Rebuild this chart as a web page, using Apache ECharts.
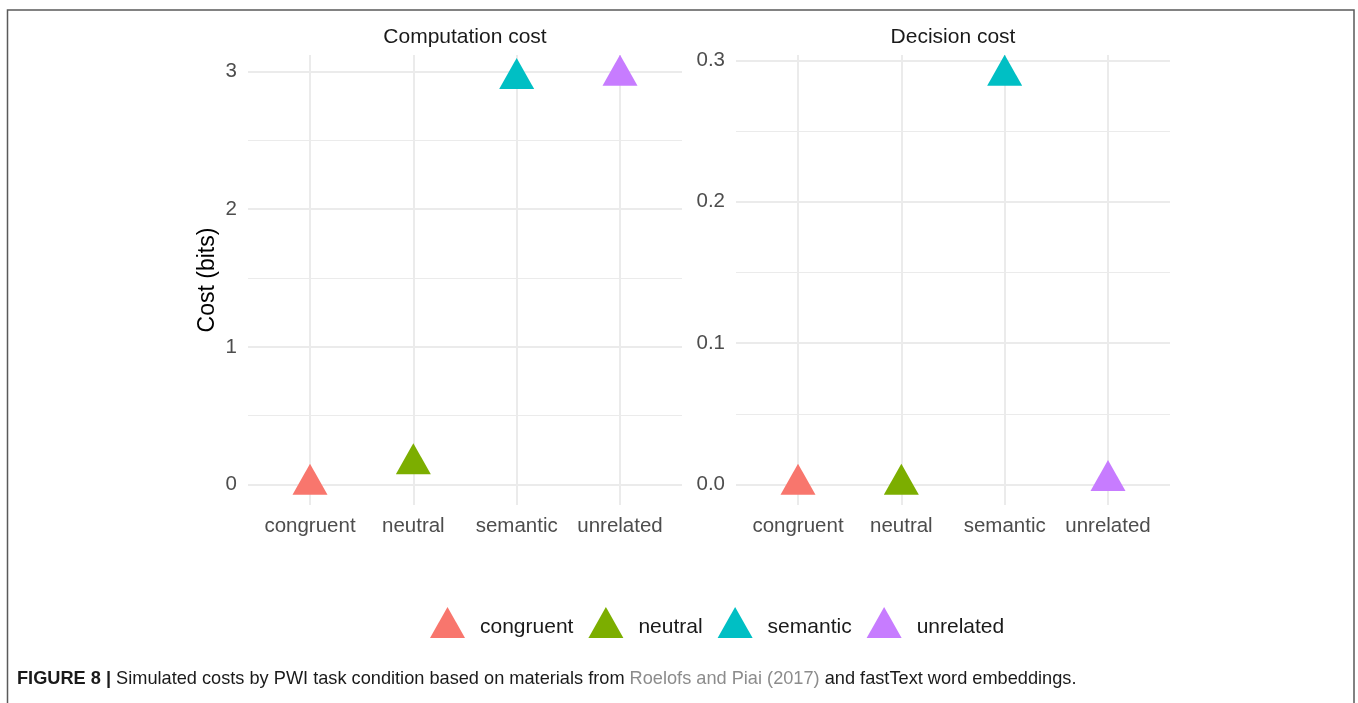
<!DOCTYPE html>
<html>
<head>
<meta charset="utf-8">
<script src="https://cdn.jsdelivr.net/npm/echarts@6/dist/echarts.min.js"></script>
<style>
  html, body { margin: 0; padding: 0; background: #ffffff; }
  #chart { width: 1358px; height: 703px; }
</style>
</head>
<body>
<div id="chart"></div>
<script>
// ---- data ----
const categories = ['congruent', 'neutral', 'semantic', 'unrelated'];
const computationCost = [0, 0.15, 2.948, 2.972];
const decisionCost = [0, 0, 0.2893, 0.0027];
const conditionColors = ['#F8766D', '#7CAE00', '#00BFC4', '#C77CFF'];
const panelTitles = ['Computation cost', 'Decision cost'];
const yAxisTitle = 'Cost (bits)';
const captionParts = ['FIGURE 8 |', ' Simulated costs by PWI task condition based on materials from ', 'Roelofs and Piai (2017)', ' and fastText word embeddings.'];

// ggplot-style 5% expansion of the continuous scale
function expandRange(arr) {
  const lo = Math.min.apply(null, arr), hi = Math.max.apply(null, arr);
  const d = (hi - lo) * 0.05;
  return [lo - d, hi + d];
}
const leftRange = expandRange(computationCost);
const rightRange = expandRange(decisionCost);

const FONT = '"Liberation Sans", Arial, Helvetica, sans-serif';
const GRID_COLOR = '#EBEBEB';
const TICK_COLOR = '#4D4D4D';

const gridTop = 55, gridBottom = 703 - 505;
// panel outer grids (for horizontal grid lines) and inner grids (category centres)
const grids = [
  { left: 248, width: 434, top: gridTop, bottom: gridBottom },   // 0 left outer
  { left: 310, width: 310, top: gridTop, bottom: gridBottom },   // 1 left inner
  { left: 736, width: 434, top: gridTop, bottom: gridBottom },   // 2 right outer
  { left: 798, width: 310, top: gridTop, bottom: gridBottom }    // 3 right inner
];

function hiddenValueX(gi) {
  return { type: 'value', gridIndex: gi, show: false, min: 0, max: 1 };
}
function catX(gi) {
  return {
    type: 'category', gridIndex: gi, data: categories, boundaryGap: false,
    axisLine: { show: false }, axisTick: { show: false },
    axisLabel: { color: TICK_COLOR, fontSize: 20.5, fontFamily: FONT, margin: 11, interval: 0 },
    splitLine: { show: true, interval: 0, lineStyle: { color: GRID_COLOR, width: 2 } }
  };
}
function majorY(gi, range, fmt, extra) {
  return Object.assign({
    type: 'value', gridIndex: gi, min: range[0], max: range[1], splitNumber: 3,
    axisLine: { show: false }, axisTick: { show: false },
    axisLabel: { color: TICK_COLOR, fontSize: 20.5, fontFamily: FONT, margin: 11, formatter: fmt, showMinLabel: false, showMaxLabel: false },
    splitLine: { show: true, showMinLine: false, showMaxLine: false, lineStyle: { color: GRID_COLOR, width: 2 } }
  }, extra || {});
}
function minorY(gi, range) {
  return {
    type: 'value', gridIndex: gi, min: range[0], max: range[1], splitNumber: 5,
    axisLine: { show: false }, axisTick: { show: false }, axisLabel: { show: false },
    splitLine: { show: true, showMinLine: false, showMaxLine: false, lineStyle: { color: GRID_COLOR, width: 1 } }
  };
}
function hiddenY(gi, range) {
  return { type: 'value', gridIndex: gi, min: range[0], max: range[1], show: false };
}

const fmtInt = v => (Math.abs(v - Math.round(v)) < 1e-6 ? String(Math.round(v)) : '');
const fmtTenth = v => (Math.abs(v * 10 - Math.round(v * 10)) < 1e-6 ? v.toFixed(1) : '');

const series = [];
categories.forEach((c, i) => {
  [[1, 2, computationCost], [3, 5, decisionCost]].forEach(([xi, yi, vals]) => {
    series.push({
      name: c, type: 'scatter', xAxisIndex: xi, yAxisIndex: yi,
      symbol: 'triangle', symbolSize: [35, 31], symbolOffset: [0, -5.2],
      itemStyle: { color: conditionColors[i], opacity: 1 },
      emphasis: { disabled: true },
      data: [[c, vals[i]]]
    });
  });
});

const chart = echarts.init(document.getElementById('chart'), null, { renderer: 'canvas' });
chart.setOption({
  animation: false,
  backgroundColor: '#ffffff',
  textStyle: { fontFamily: FONT },
  title: [
    { text: panelTitles[0], left: 465, top: 27, padding: 0, textAlign: 'center', textStyle: { fontSize: 21, fontWeight: 'normal', color: '#1A1A1A', fontFamily: FONT } },
    { text: panelTitles[1], left: 953, top: 27, padding: 0, textAlign: 'center', textStyle: { fontSize: 21, fontWeight: 'normal', color: '#1A1A1A', fontFamily: FONT } }
  ],
  grid: grids,
  xAxis: [hiddenValueX(0), catX(1), hiddenValueX(2), catX(3)],
  yAxis: [
    majorY(0, leftRange, fmtInt, {
      name: yAxisTitle, nameLocation: 'middle', nameRotate: 90, nameGap: 29,
      nameTextStyle: { fontSize: 23, color: '#000000', fontFamily: FONT }
    }),
    minorY(0, leftRange),
    hiddenY(1, leftRange),
    majorY(2, rightRange, fmtTenth),
    minorY(2, rightRange),
    hiddenY(3, rightRange)
  ],
  legend: {
    data: categories, left: 430, top: 607, padding: 0,
    icon: 'triangle', itemWidth: 35, itemHeight: 31, itemGap: 15,
    formatter: name => '{t|' + name + '}',
    textStyle: {
      fontSize: 21, color: '#1A1A1A', fontFamily: FONT, padding: [0, 0, 0, 10],
      rich: { t: { fontSize: 21, color: '#1A1A1A', fontFamily: FONT, padding: [9, 0, 0, 0] } }
    },
    selectedMode: false
  },
  series: series,
  graphic: [
    {
      type: 'rect', silent: true,
      shape: { x: 7.5, y: 10, width: 1346.5, height: 720 },
      style: { fill: 'none', stroke: '#5A5A5A', lineWidth: 1.5 }
    },
    {
      type: 'text', left: 17, top: 670, silent: true,
      style: {
        text: '{b|' + captionParts[0] + '}' + captionParts[1] + '{g|' + captionParts[2] + '}' + captionParts[3],
        fontSize: 18.2, fontFamily: FONT, fill: '#1A1A1A',
        rich: {
          b: { fontWeight: 'bold', fontSize: 18.2, fontFamily: FONT, fill: '#1A1A1A' },
          g: { fontSize: 18.2, fontFamily: FONT, fill: '#8C8C8C' }
        }
      }
    }
  ]
});
</script>
</body>
</html>
